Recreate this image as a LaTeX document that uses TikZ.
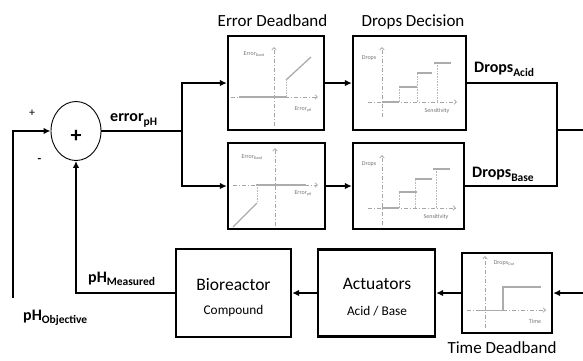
\documentclass[tikz,border=0pt]{standalone}
\usepackage{fontspec}
\setmainfont{Carlito}
\usetikzlibrary{shapes.geometric,arrows.meta}
\newcommand{\lsub}[2][4pt]{\raisebox{-#1}{\fontsize{11.5}{12}\selectfont #2}}
\newcommand{\psub}[1]{\raisebox{-1.2pt}{\fontsize{4}{4}\selectfont #1}}
\tikzset{
  blk/.style={draw, line width=2.3pt, inner sep=0},
  wire/.style={line width=1.8pt},
  arr/.style={wire, -{Latex[length=7pt,width=6.5pt]}},
  lbl/.style={font=\bfseries\fontsize{16}{18}\selectfont, inner sep=0},
  ttl/.style={font=\fontsize{17}{18}\selectfont, inner sep=0, anchor=base},
  inn/.style={font=\fontsize{17.5}{18}\selectfont, inner sep=0, anchor=base},
  inns/.style={font=\fontsize{13.3}{14}\selectfont, inner sep=0, anchor=base},
  axis/.style={gray!70, line width=0.7pt, dash pattern=on 4pt off 2pt on 1pt off 2pt, -{Straight Barb[length=2.5pt,width=4.5pt]}},
  curve/.style={gray!65, line width=1.3pt},
  guide/.style={gray!55, line width=0.6pt, densely dotted},
  plbl/.style={text=gray!90!black, font=\fontsize{6}{6}\selectfont, inner sep=0}
}
\begin{document}
\begin{tikzpicture}[x=1pt,y=-1pt]
\useasboundingbox (0,0) rectangle (583,360);
% summing junction
\node[ellipse, draw, line width=0.9pt, minimum width=50pt, minimum height=59pt, inner sep=0] (sum) at (76,131) {};
\node[font=\bfseries\fontsize{22}{22}\selectfont, inner sep=0] (plus) at (76,136) {+};
\node[font=\fontsize{12}{12}\selectfont, inner sep=0] (pl) at (32,113) {+};
\node[font=\bfseries\fontsize{12}{12}\selectfont, inner sep=0] (mi) at (39.5,160) {-};
% blocks
\node[blk, minimum width=96pt, minimum height=94pt] (ed1) at (276,83) {};
\node[blk, minimum width=97pt, minimum height=86pt] (ed2) at (276.5,186) {};
\node[blk, minimum width=113pt, minimum height=94pt] (dd1) at (409.5,83) {};
\node[blk, minimum width=111pt, minimum height=86pt] (dd2) at (408.5,186) {};
\node[blk, minimum width=90pt, minimum height=80pt] (td) at (507,293) {};
\node[blk, minimum width=117pt, minimum height=87pt] (act) at (376.5,293) {};
\node[blk, minimum width=115pt, minimum height=88pt] (bio) at (233.5,293) {};
% titles
\node[ttl] (t1) at (272.5,26) {Error Deadband};
\node[ttl] (t2) at (413,26) {Drops Decision};
\node[ttl] (t3) at (502,353) {Time Deadband};
\node[inn] (bio1) at (233.5,290) {Bioreactor};
\node[inns] (bio2) at (233.5,314) {Compound};
\node[inn] (act1) at (377,289) {Actuators};
\node[inns] (act2) at (377,315) {Acid / Base};
% signal labels
\node[lbl, anchor=base west] (err) at (110,121) {error\lsub{pH}};
\node[lbl, anchor=base west] (dacid) at (474,72) {Drops\lsub{Acid}};
\node[lbl, anchor=base west] (dbase) at (472,177) {Drops\lsub{Base}};
\node[lbl, anchor=base west] (phm) at (88,282) {pH\lsub[3pt]{Measured}};
\node[lbl, anchor=base west] (pho) at (23,320) {pH\lsub[3pt]{Objective}};
% connectors
\coordinate (obj) at (13,298);
\coordinate (split) at (182,131);
\coordinate (merge) at (557,130);
\coordinate (out) at (583,130);
\coordinate (in) at (583,293);
\draw[arr] (obj) |- (sum.west);
\draw[wire] (sum.east) -- (split);
\draw[arr] (split) |- (ed1.west);
\draw[arr] (split) |- (ed2.west);
\draw[arr] (ed1.east) -- (dd1.west);
\draw[arr] (ed2.east) -- (dd2.west);
\draw[wire] (dd1.east) -| (merge);
\draw[wire] (dd2.east) -| (merge);
\draw[wire] (merge) -- (out);
\draw[arr] (in) -- (td.east);
\draw[arr] (td.west) -- (act.east);
\draw[arr] (act.west) -- (bio.east);
\draw[arr] (bio.west) -| (sum.south);
% plot: error deadband (top)
\draw[axis] (274,126) -- (274,47);
\draw[axis] (231,97) -- (318,97);
\draw[curve] (239,97) -- (286,97);
\draw[guide] (286,97) -- (286,80);
\draw[curve] (286,80) -- (311,57);
\node[plbl] (ed1y) at (254,54) {Error\psub{Band}};
\node[plbl] (ed1x) at (303,109) {Error\psub{pH}};
% plot: error deadband (bottom)
\draw[axis] (275,226) -- (275,148);
\draw[axis] (233,185) -- (318,185);
\draw[curve] (256,185) -- (306,185);
\draw[guide] (257,185) -- (257,202);
\draw[curve] (257,203) -- (233,227);
\node[plbl] (ed2y) at (252,157) {Error\psub{Band}};
\node[plbl] (ed2x) at (303,193) {Error\psub{pH}};
% plot: drops decision (top)
\draw[axis] (382,117) -- (382,47);
\draw[axis] (368,102) -- (457,102);
\draw[curve] (382,102) -- (399,102);
\draw[guide] (399,102) -- (399,87);
\draw[curve] (399,87) -- (417,87);
\draw[guide] (417,102) -- (417,73);
\draw[curve] (417,73) -- (432,73);
\draw[guide] (437,102) -- (437,63);
\draw[curve] (434,63) -- (451,63);
\node[plbl] (dd1y) at (369,58) {Drops};
\node[plbl] (dd1x) at (437,111) {Sensitivity};
% plot: drops decision (bottom)
\draw[axis] (382,225) -- (382,155);
\draw[axis] (368,208) -- (456,208);
\draw[curve] (382,208) -- (399,208);
\draw[guide] (399,208) -- (399,192);
\draw[curve] (399,192) -- (417,192);
\draw[guide] (415,208) -- (415,179);
\draw[curve] (415,179) -- (432,179);
\draw[guide] (436,208) -- (436,169);
\draw[curve] (433,169) -- (450,169);
\node[plbl] (dd2y) at (369,164) {Drops};
\node[plbl] (dd2x) at (436,217) {Sensitivity};
% plot: time deadband
\draw[axis] (485,328) -- (485,256);
\draw[axis] (467,310) -- (546,310);
\draw[curve, line width=0.8pt] (480,310) -- (503,310);
\draw[curve] (503,310) -- (503,287) -- (541,287);
\node[plbl] (tdy) at (504,263) {Drops\psub{Out}};
\node[plbl] (tdx) at (535,321) {Time};
\end{tikzpicture}
\end{document}
